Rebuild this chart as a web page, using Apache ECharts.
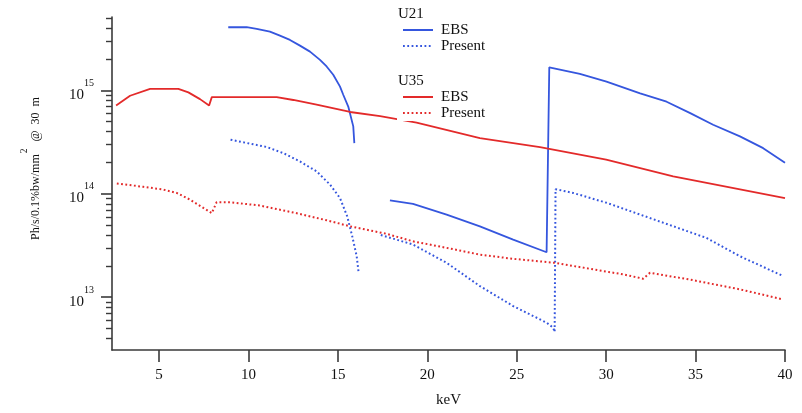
<!DOCTYPE html>
<html>
<head>
<meta charset="utf-8">
<script src="https://cdn.jsdelivr.net/npm/echarts@6/dist/echarts.min.js"></script>
<style>html,body{margin:0;padding:0;background:#fff}#c{width:802px;height:413px}</style>
</head>
<body>
<div id="c"></div>
<script>
// ---- data ----
const xTickValues = [5, 10, 15, 20, 25, 30, 35, 40];
const yMajorTicks = [1e13, 1e14, 1e15];
const yMinorTicks = [4e12, 5e12, 6e12, 7e12, 8e12, 9e12,
  2e13, 3e13, 4e13, 5e13, 6e13, 7e13, 8e13, 9e13,
  2e14, 3e14, 4e14, 5e14, 6e14, 7e14, 8e14, 9e14,
  2e15, 3e15, 4e15, 5e15];

const u21EbsKeV = [8.87, 9.9, 10.46, 11.2, 11.76, 12.32, 12.88, 13.44, 14.0, 14.37, 14.74, 15.12, 15.3, 15.58, 15.86, 15.92,
  null,
  17.91, 19.2, 21.08, 22.94, 24.8, 26.67, 26.76, 26.82, 28.53, 30.02, 31.9, 33.38, 34.7, 35.98, 37.48, 38.78, 40];
const u21EbsFlux = [4.1e15, 4.1e15, 3.95e15, 3.72e15, 3.4e15, 3.09e15, 2.72e15, 2.38e15, 1.98e15, 1.71e15, 1.42e15, 1.09e15, 9.1e14, 7.0e14, 4.5e14, 3.1e14,
  null,
  8.65e13, 7.98e13, 6.3e13, 4.85e13, 3.6e13, 2.72e13, 2.62e13, 1.68e15, 1.45e15, 1.22e15, 9.4e14, 7.8e14, 6.05e14, 4.67e14, 3.6e14, 2.77e14, 2.0e14];

const u21PresentKeV = [9.0, 10.09, 11.02, 11.95, 12.88, 13.81, 14.56, 15.12, 15.52, 15.8, 16.05, 16.16,
  null,
  17.4, 19.2, 21.08, 22.94, 24.8, 26.67, 27.04, 27.12, 27.17, 28.16, 30.02, 31.9, 33.76, 35.6, 37.48, 39.9];
const u21PresentFlux = [3.34e14, 3.06e14, 2.84e14, 2.48e14, 2.06e14, 1.65e14, 1.23e14, 9.1e13, 6.07e13, 3.9e13, 2.5e13, 1.72e13,
  null,
  4.0e13, 3.23e13, 2.15e13, 1.28e13, 8.2e12, 5.66e12, 5.06e12, 4.6e12, 1.11e14, 1.02e14, 8.2e13, 6.3e13, 4.85e13, 3.75e13, 2.49e13, 1.6e13];

const u35EbsKeV = [2.6, 3.38, 4.5, 6.08, 6.64, 7.29, 7.8, 7.95, 11.58, 12.51, 13.81, 15.68, 17.36, 19.4, 22.94, 26.3, 30.0, 33.75, 40];
const u35EbsFlux = [7.17e14, 8.9e14, 1.04e15, 1.04e15, 9.6e14, 8.26e14, 7.17e14, 8.63e14, 8.63e14, 8.1e14, 7.3e14, 6.2e14, 5.65e14, 4.9e14, 3.47e14, 2.84e14, 2.14e14, 1.48e14, 9.1e13];

const u35PresentKeV = [2.64, 4.12, 5.24, 5.99, 6.73, 7.48, 7.95, 8.22, 8.97, 10.65, 12.51, 14.37, 15.68, 17.73, 19.2, 21.08, 22.94, 24.8, 27.14, 29.1, 30.96, 32.07, 32.45, 34.68, 37.48, 39.9];
const u35PresentFlux = [1.26e14, 1.17e14, 1.1e14, 1.02e14, 8.8e13, 7.3e13, 6.5e13, 8.3e13, 8.3e13, 7.7e13, 6.6e13, 5.55e13, 4.85e13, 4.1e13, 3.47e13, 3.0e13, 2.58e13, 2.35e13, 2.15e13, 1.88e13, 1.66e13, 1.51e13, 1.72e13, 1.48e13, 1.19e13, 9.5e12];

// ---- chart ----
function pairs(xs, ys) {
  return xs.map((x, i) => (x === null ? null : [x, ys[i]]));
}
const BLUE = '#3556de';
const RED = '#e32a2a';
const SERIF = '"Liberation Serif", "DejaVu Serif", serif';
const AXIS_COLOR = '#3a3a3a';

const chart = echarts.init(document.getElementById('c'), null, { renderer: 'canvas' });

function lineSeries(name, color, dotted, xs, ys) {
  return {
    name: name,
    type: 'line',
    xAxisIndex: 0,
    yAxisIndex: 0,
    symbol: 'none',
    showSymbol: false,
    connectNulls: false,
    silent: true,
    lineStyle: dotted
      ? { color: color, width: 2, type: [1.8, 2.5], cap: 'butt' }
      : { color: color, width: 1.8, type: 'solid' },
    itemStyle: { color: color },
    data: pairs(xs, ys)
  };
}

const legendCommon = {
  orient: 'vertical',
  itemWidth: 30,
  itemHeight: 16,
  itemGap: 0,
  selectedMode: false,
  itemStyle: { opacity: 0 },
  formatter: function (n) { return n.split(' ')[1]; },
  textStyle: { fontFamily: SERIF, fontSize: 15, color: '#111', lineHeight: 16, padding: [0, 0, 0, 3] }
};

const option = {
  animation: false,
  backgroundColor: '#fff',
  grid: { left: 112, right: 17, top: 17, bottom: 62 },
  xAxis: {
    type: 'value',
    min: 2.37,
    max: 40,
    name: 'keV',
    nameLocation: 'middle',
    nameGap: 43,
    nameTextStyle: { fontFamily: SERIF, fontSize: 15, color: '#111' },
    axisLine: { show: true, lineStyle: { color: AXIS_COLOR, width: 1.6 } },
    axisTick: { show: true, inside: false, length: 12, customValues: xTickValues, lineStyle: { color: AXIS_COLOR, width: 1.6 } },
    axisLabel: { customValues: xTickValues, margin: 18, fontFamily: SERIF, fontSize: 15, color: '#111' },
    splitLine: { show: false }
  },
  yAxis: [
    {
      type: 'log',
      logBase: 10,
      min: 3.08e12,
      max: 5.15e15,
      position: 'left',
      name: '{a|Ph/s/0.1%bw/mm}{s|2}{a|  @  30  m}',
      nameLocation: 'middle',
      nameGap: 70,
      nameRotate: 90,
      nameTextStyle: {
        fontFamily: SERIF, color: '#111', padding: [0, 0, 0, 30],
        rich: {
          a: { fontFamily: SERIF, fontSize: 12, color: '#111', padding: [11, 0, 0, 0], verticalAlign: 'bottom' },
          s: { fontFamily: SERIF, fontSize: 9.5, color: '#111', verticalAlign: 'top', padding: [0, 1, 0, 1] }
        }
      },
      axisLine: { show: true, lineStyle: { color: AXIS_COLOR, width: 1.6 } },
      axisTick: { show: true, inside: false, length: 11, customValues: yMajorTicks, lineStyle: { color: AXIS_COLOR, width: 1.6 } },
      axisLabel: {
        customValues: yMajorTicks,
        margin: 18,
        formatter: function (v) { return '{b|10}{s|' + Math.round(Math.log10(v)) + '}'; },
        rich: {
          b: { fontFamily: SERIF, fontSize: 15, color: '#111', padding: [9, 0, 0, 0], verticalAlign: 'bottom' },
          s: { fontFamily: SERIF, fontSize: 10, color: '#111', verticalAlign: 'top' }
        }
      },
      splitLine: { show: false },
      minorTick: { show: false }
    },
    {
      type: 'log',
      logBase: 10,
      min: 3.08e12,
      max: 5.15e15,
      position: 'left',
      axisLine: { show: false },
      axisTick: { show: true, inside: false, length: 6, customValues: yMinorTicks, lineStyle: { color: AXIS_COLOR, width: 1.4 } },
      axisLabel: { show: false },
      splitLine: { show: false }
    }
  ],
  legend: [
    Object.assign({}, legendCommon, {
      left: 402,
      top: 22,
      padding: 0,
      data: ['U21 EBS', 'U21 Present']
    }),
    Object.assign({}, legendCommon, {
      left: 397,
      top: 89,
      padding: [0, 8, 0, 5],
      backgroundColor: '#fff',
      data: ['U35 EBS', 'U35 Present']
    })
  ],
  graphic: [
    { type: 'text', left: 398, top: 7, z: 100, style: { text: 'U21', font: '15px ' + SERIF, fill: '#111' } },
    { type: 'text', left: 398, top: 74, z: 100, style: { text: 'U35', font: '15px ' + SERIF, fill: '#111' } }
  ],
  series: [
    lineSeries('U21 EBS', BLUE, false, u21EbsKeV, u21EbsFlux),
    lineSeries('U21 Present', BLUE, true, u21PresentKeV, u21PresentFlux),
    lineSeries('U35 EBS', RED, false, u35EbsKeV, u35EbsFlux),
    lineSeries('U35 Present', RED, true, u35PresentKeV, u35PresentFlux)
  ]
};
chart.setOption(option);
</script>
</body>
</html>
